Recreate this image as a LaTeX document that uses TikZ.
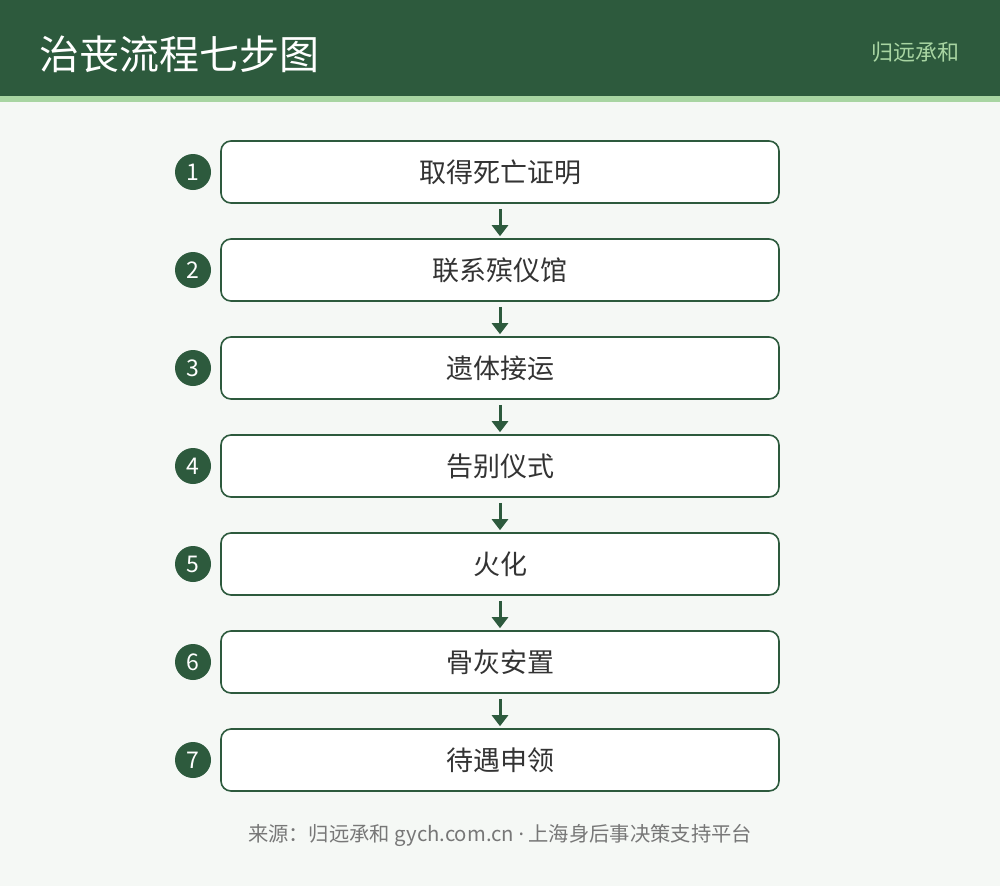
\documentclass[tikz,border=0pt]{standalone}
\usepackage{fontspec}
\setmainfont{Noto Sans CJK SC}
\newfontfamily\latinfont{Noto Sans}
\usetikzlibrary{arrows.meta}
\definecolor{dkgreen}{HTML}{2D5A3D}
\definecolor{ltgreen}{HTML}{A8D5A2}
\definecolor{bgcol}{HTML}{F5F8F5}
\definecolor{txtcol}{HTML}{333333}
\definecolor{footcol}{HTML}{777777}
\tikzset{
  stepbox/.style={draw=dkgreen, line width=1.6pt, fill=white, rounded corners=10pt,
    minimum width=558pt, minimum height=62pt, inner sep=0pt,
    font=\fontsize{27}{32}\selectfont, text=txtcol},
  numcirc/.style={circle, fill=dkgreen, minimum size=36pt, inner sep=0pt,
    text=white, font=\fontsize{23}{27}\selectfont},
  flow/.style={draw=dkgreen, line width=3pt, -{Triangle[length=11pt,width=16pt]}}
}
\begin{document}
\begin{tikzpicture}[x=1pt,y=-1pt]
\useasboundingbox (0,0) rectangle (1000,886);
\fill[bgcol] (0,0) rectangle (1000,886);
\fill[dkgreen] (0,0) rectangle (1000,96);
\fill[ltgreen] (0,96) rectangle (1000,102);
\node[anchor=west, text=white, font=\fontsize{40}{46}\selectfont, inner sep=0pt] (title) at (39,54) {治丧流程七步图};
\node[anchor=east, text=ltgreen, font=\fontsize{22}{26}\selectfont, inner sep=0pt] (brand) at (960,52) {归远承和};
\foreach \i/\t in {1/取得死亡证明,2/联系殡仪馆,3/遗体接运,4/告别仪式,5/火化,6/骨灰安置,7/待遇申领}{
  \node[stepbox] (s\i) at (500,{172+98*(\i-1)}) {\t};
  \node[numcirc] (n\i) at (193,{172+98*(\i-1)}) {\i};
}
\foreach \i [evaluate=\i as \j using int(\i+1)] in {1,...,6}{
  \draw[flow] ([yshift=-5pt]s\i.south) -- ([yshift=2pt]s\j.north);
}
\node[text=footcol, font=\fontsize{20.3}{24}\selectfont, inner sep=0pt] (foot) at (500,835) {来源：归远承和 gych.com.cn {\latinfont ·} 上海身后事决策支持平台};
\end{tikzpicture}
\end{document}
